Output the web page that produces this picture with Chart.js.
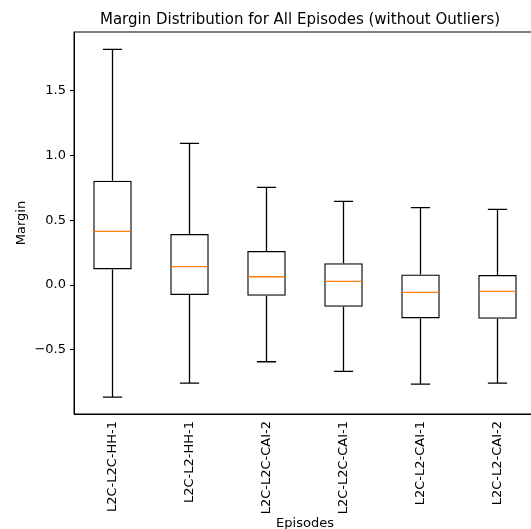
<!DOCTYPE html>
<html>
<head>
<meta charset="utf-8">
<script src="https://cdn.jsdelivr.net/npm/chart.js@4.4.1/dist/chart.umd.min.js"></script>
<style>
    html, body { margin: 0; padding: 0; overflow: hidden; background: #fff; }
    #wrap { width: 600px; height: 529px; }
</style>
</head>
<body>
<div id="wrap"><canvas id="boxChart"></canvas></div>
<script>
// Episodes and box stats
const episodes = ['L2C-L2C-HH-1', 'L2C-L2-HH-1', 'L2C-L2C-CAI-2', 'L2C-L2C-CAI-1', 'L2C-L2-CAI-1', 'L2C-L2-CAI-2'];
const whiskerHigh = [1.822, 1.095, 0.755, 0.647, 0.598, 0.585];
const q3Values = [0.807, 0.394, 0.263, 0.168, 0.082, 0.077];
const medians = [0.415, 0.142, 0.064, 0.028, -0.057, -0.049];
const q1Values = [0.121, -0.077, -0.083, -0.168, -0.258, -0.261];
const whiskerLow = [-0.866, -0.758, -0.593, -0.668, -0.766, -0.758];
const yTicks = [-0.5, 0.0, 0.5, 1.0, 1.5];

const FONT = 'DejaVu Sans';

// whiskers, caps, medians and the frame, drawn on top of the box bars
const boxExtras = {
    id: 'boxExtras',
    afterDatasetsDraw(chart) {
        const ctx = chart.ctx;
        const xs = chart.scales.x;
        const ys = chart.scales.y;
        const bars = chart.getDatasetMeta(0).data;
        ctx.save();
        episodes.forEach((ep, i) => {
            const x = xs.getPixelForValue(i);
            const half = bars[i].width / 2;
            const cap = half / 2;
            const yHi = ys.getPixelForValue(whiskerHigh[i]);
            const yLo = ys.getPixelForValue(whiskerLow[i]);
            const y3 = ys.getPixelForValue(q3Values[i]);
            const y1 = ys.getPixelForValue(q1Values[i]);
            const ym = ys.getPixelForValue(medians[i]);

            ctx.strokeStyle = '#000';
            ctx.lineWidth = 1.3;
            ctx.beginPath();
            ctx.moveTo(x, y3); ctx.lineTo(x, yHi);
            ctx.moveTo(x, y1); ctx.lineTo(x, yLo);
            ctx.moveTo(x - cap, yHi); ctx.lineTo(x + cap, yHi);
            ctx.moveTo(x - cap, yLo); ctx.lineTo(x + cap, yLo);
            ctx.stroke();

            ctx.strokeStyle = '#ff7f0e';
            ctx.beginPath();
            ctx.moveTo(x - half + 1, ym); ctx.lineTo(x + half - 1, ym);
            ctx.stroke();
        });
        const a = chart.chartArea;
        ctx.strokeStyle = '#000';
        ctx.lineWidth = 1;
        ctx.strokeRect(a.left, a.top, a.right - a.left, a.bottom - a.top);
        ctx.restore();
    }
};

const ctx = document.getElementById('boxChart').getContext('2d');
const boxChart = new Chart(ctx, {
    type: 'bar',
    data: {
        labels: episodes,
        datasets: [{
            data: episodes.map((ep, i) => [q1Values[i], q3Values[i]]),
            backgroundColor: 'rgba(0,0,0,0)',
            borderColor: '#000',
            borderWidth: 1.3,
            borderSkipped: false,
            categoryPercentage: 1.0,
            barPercentage: 0.5
        }]
    },
    options: {
        responsive: true,
        maintainAspectRatio: false,
        animation: false,
        layout: { padding: 0 },
        plugins: {
            legend: { display: false },
            tooltip: { enabled: false },
            title: {
                display: true,
                text: 'Margin Distribution for All Episodes (without Outliers)',
                color: '#000',
                font: { family: FONT, size: 15, weight: 'normal' },
                padding: { top: 11, bottom: 3 }
            }
        },
        scales: {
            x: {
                offset: true,
                grid: { display: false, drawOnChartArea: false, drawTicks: true, tickLength: 4, tickColor: '#000' },
                border: { display: true, color: '#000', width: 1 },
                ticks: {
                    color: '#000',
                    font: { family: FONT, size: 13 },
                    minRotation: 90,
                    maxRotation: 90,
                    padding: 3
                },
                title: {
                    display: true,
                    text: 'Episodes',
                    color: '#000',
                    font: { family: FONT, size: 13 },
                    padding: { top: 0, bottom: -2 }
                },
                afterFit(scale) { scale.height = 115; }
            },
            y: {
                min: -0.997,
                max: 1.956,
                grid: { drawOnChartArea: false, drawTicks: true, tickLength: 4, tickColor: '#000' },
                border: { display: true, color: '#000', width: 1 },
                afterBuildTicks(scale) { scale.ticks = yTicks.map(v => ({ value: v })); },
                ticks: {
                    color: '#000',
                    font: { family: FONT, size: 13 },
                    padding: 4,
                    callback: v => (v < 0 ? '\u2212' : '') + Math.abs(v).toFixed(1)
                },
                title: {
                    display: true,
                    text: 'Margin',
                    color: '#000',
                    font: { family: FONT, size: 13 },
                    padding: { top: 14, bottom: 0 }
                },
                afterFit(scale) { scale.width = 74; }
            },
            // empty right box so the plot runs past the window edge while the title stays centred
            pad: {
                position: 'right',
                display: true,
                grid: { display: false },
                border: { display: false },
                ticks: { display: false },
                afterFit(scale) { scale.width = 64; }
            }
        }
    },
    plugins: [boxExtras]
});
</script>
</body>
</html>
